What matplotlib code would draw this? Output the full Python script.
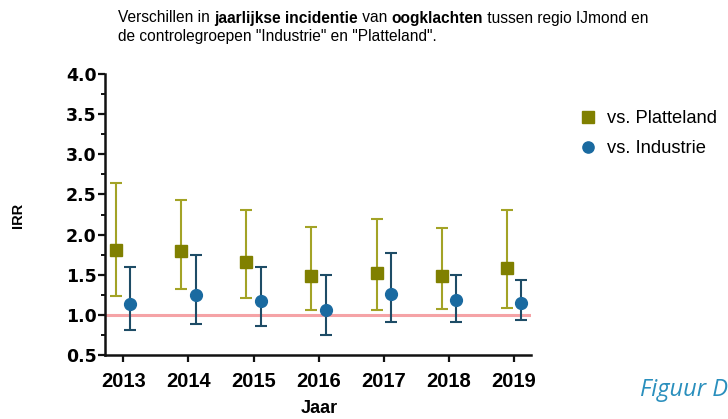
import numpy as np
import matplotlib.pyplot as plt
from matplotlib.ticker import MultipleLocator

years = [2013, 2014, 2015, 2016, 2017, 2018, 2019]

# vs. Platteland
plat_irr = [1.81, 1.80, 1.66, 1.49, 1.52, 1.49, 1.58]
plat_lo = [1.24, 1.32, 1.21, 1.06, 1.06, 1.07, 1.08]
plat_hi = [2.64, 2.43, 2.31, 2.10, 2.19, 2.08, 2.31]

# vs. Industrie
ind_irr = [1.14, 1.25, 1.17, 1.06, 1.26, 1.18, 1.15]
ind_lo = [0.81, 0.88, 0.86, 0.75, 0.91, 0.91, 0.93]
ind_hi = [1.60, 1.75, 1.60, 1.50, 1.77, 1.50, 1.43]

title1 = ["Verschillen in ", "jaarlijkse incidentie", " van ", "oogklachten",
          " tussen regio IJmond en"]
title2 = 'de controlegroepen "Industrie" en "Platteland".'

plt.rcParams['font.family'] = ['Liberation Sans', 'DejaVu Sans']

fig = plt.figure(figsize=(7.28, 4.19), dpi=100)
ax = fig.add_axes([105/728, 1-355/419, (531-105)/728, (355-74)/419])

x = np.array(years, dtype=float)
off = 0.11

ax.axhline(1.0, color='#f5a3a6', lw=2.2, zorder=1)

p_err = [np.array(plat_irr) - np.array(plat_lo), np.array(plat_hi) - np.array(plat_irr)]
i_err = [np.array(ind_irr) - np.array(ind_lo), np.array(ind_hi) - np.array(ind_irr)]

ax.errorbar(x - off, plat_irr, yerr=p_err, fmt='none', ecolor='#a3a326',
            elinewidth=1.5, capsize=4.6, capthick=1.5, zorder=2)
ax.plot(x - off, plat_irr, 's', color='#808000', ms=8.5, zorder=3, label='vs. Platteland')

ax.errorbar(x + off, ind_irr, yerr=i_err, fmt='none', ecolor='#1e4c66',
            elinewidth=1.5, capsize=4.6, capthick=1.5, zorder=2)
ax.plot(x + off, ind_irr, 'o', color='#1a6aa0', ms=8.5, zorder=3, label='vs. Industrie')

ax.set_xlim(2012.72, 2019.26)
ax.set_xticks(years)
ax.set_xticklabels([str(y) for y in years], fontsize=14.5, fontweight='bold')
ax.yaxis.set_major_locator(MultipleLocator(0.5))
ax.yaxis.set_minor_locator(MultipleLocator(0.25))
ax.set_ylim(0.5, 4.0)
yt = np.arange(0.5, 4.01, 0.5)
ax.set_yticks(yt)
ax.set_yticklabels([f"{v:.1f}" for v in yt], fontsize=12.5, fontweight='bold',
                   family='DejaVu Sans')

for s in ['top', 'right']:
    ax.spines[s].set_visible(False)
for s in ['left', 'bottom']:
    ax.spines[s].set_linewidth(1.8)
    ax.spines[s].set_color('#111111')

ax.tick_params(axis='both', which='major', length=5, width=1.6, color='#111111')
ax.tick_params(axis='y', which='minor', length=3, width=1.4, color='#111111')
ax.tick_params(axis='y', pad=1)
ax.tick_params(axis='x', pad=7.5)

fig.text(18/728, 1-215/419, "IRR", rotation=90, fontsize=10.5, fontweight='bold',
         ha='center', va='center')
fig.text(319/728, 1-408/419, "Jaar", fontsize=13, fontweight='bold',
         ha='center', va='center')

# title with mixed bold words
xpos = 118
renderer = fig.canvas.get_renderer()
for i, part in enumerate(title1):
    t = fig.text(xpos/728, 1-18/419, part, fontsize=11.2, va='center', ha='left',
                 fontweight='bold' if i in (1, 3) else 'normal')
    bb = t.get_window_extent(renderer=renderer)
    xpos += bb.width
fig.text(118/728, 1-37/419, title2, fontsize=11.2, va='center', ha='left')

# legend
fig.legend(loc='upper left', bbox_to_anchor=(579/728, 1-110/419), frameon=False,
           prop={'family': 'Liberation Sans', 'size': 13.2}, handletextpad=0.6,
           labelspacing=0.72, handlelength=0.95, borderpad=0, borderaxespad=0,
           markerscale=0.95)

fig.text(640/728, 1-390/419, "Figuur D", fontsize=17, style='italic',
         color='#2a8fbd', family=['Open Sans', 'DejaVu Sans'], va='center', ha='left')

fig.savefig('out.png', dpi=100)
